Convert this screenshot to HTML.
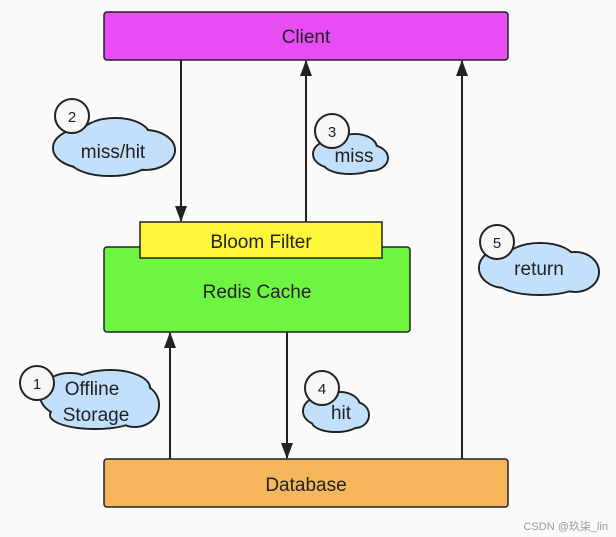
<!DOCTYPE html>
<html><head><meta charset="utf-8"><style>
html,body{margin:0;padding:0;background:#fff}
svg{display:block}
text{font-family:"Liberation Sans",sans-serif;fill:#222}
</style></head><body>
<svg width="616" height="537" viewBox="0 0 616 537" xmlns="http://www.w3.org/2000/svg">
<defs>
<marker id="ah" markerWidth="16" markerHeight="12" refX="15" refY="6" orient="auto" markerUnits="userSpaceOnUse">
<path d="M0,0 L16,6 L0,12 z" fill="#222"/></marker>
</defs>
<rect x="0" y="0" width="616" height="537" fill="#fafafa"/>
<rect x="104" y="12" width="404" height="48" rx="3" fill="#e84cf5" stroke="#222" stroke-width="1.5"/>
<text x="306" y="43" font-size="19" text-anchor="middle">Client</text>
<rect x="104" y="247" width="306" height="85" rx="3" fill="#6ef542" stroke="#222" stroke-width="1.5"/>
<text x="257" y="298" font-size="19" text-anchor="middle">Redis Cache</text>
<rect x="140" y="222" width="242" height="36" fill="#fff63a" stroke="#222" stroke-width="1.5"/>
<text x="261" y="248" font-size="19" text-anchor="middle">Bloom Filter</text>
<rect x="104" y="459" width="404" height="48" rx="3" fill="#f5b65c" stroke="#222" stroke-width="1.5"/>
<text x="306" y="491" font-size="19" text-anchor="middle">Database</text>
<g stroke="#222" stroke-width="2" marker-end="url(#ah)">
<line x1="181" y1="60" x2="181" y2="221"/>
<line x1="306" y1="222" x2="306" y2="61"/>
<line x1="462" y1="459" x2="462" y2="61"/>
<line x1="170" y1="459" x2="170" y2="333"/>
<line x1="287" y1="332" x2="287" y2="458"/>
</g>
<g fill="#c2dffb" stroke="#222" stroke-width="2">
<ellipse cx="85" cy="148" rx="32" ry="20"/><ellipse cx="115" cy="136" rx="35" ry="18"/><ellipse cx="145" cy="150" rx="30" ry="20"/><ellipse cx="110" cy="160" rx="40" ry="16"/></g>
<g fill="#c2dffb"><ellipse cx="85" cy="148" rx="31" ry="19"/><ellipse cx="115" cy="136" rx="34" ry="17"/><ellipse cx="145" cy="150" rx="29" ry="19"/><ellipse cx="110" cy="160" rx="39" ry="15"/></g>
<text x="113" y="158" font-size="19" text-anchor="middle">miss/hit</text>
<circle cx="72" cy="116" r="17" fill="#f7f7f7" stroke="#222" stroke-width="2"/><text x="72" y="122" font-size="15" text-anchor="middle">2</text>

<g fill="#c2dffb" stroke="#222" stroke-width="2">
<ellipse cx="333" cy="154" rx="20" ry="14"/><ellipse cx="355" cy="148" rx="22" ry="14"/><ellipse cx="370" cy="158" rx="18" ry="13"/><ellipse cx="350" cy="164" rx="26" ry="10"/></g>
<g fill="#c2dffb"><ellipse cx="333" cy="154" rx="19" ry="13"/><ellipse cx="355" cy="148" rx="21" ry="13"/><ellipse cx="370" cy="158" rx="17" ry="12"/><ellipse cx="350" cy="164" rx="25" ry="9"/></g>
<text x="354" y="162" font-size="19" text-anchor="middle">miss</text>
<circle cx="332" cy="131" r="17" fill="#f7f7f7" stroke="#222" stroke-width="2"/><text x="332" y="137" font-size="15" text-anchor="middle">3</text>

<g fill="#c2dffb" stroke="#222" stroke-width="2">
<ellipse cx="505" cy="268" rx="26" ry="20"/><ellipse cx="540" cy="260" rx="35" ry="17"/><ellipse cx="575" cy="272" rx="24" ry="20"/><ellipse cx="540" cy="282" rx="42" ry="13"/></g>
<g fill="#c2dffb"><ellipse cx="505" cy="268" rx="25" ry="19"/><ellipse cx="540" cy="260" rx="34" ry="16"/><ellipse cx="575" cy="272" rx="23" ry="19"/><ellipse cx="540" cy="282" rx="41" ry="12"/></g>
<text x="539" y="275" font-size="19" text-anchor="middle">return</text>
<circle cx="497" cy="242" r="17" fill="#f7f7f7" stroke="#222" stroke-width="2"/><text x="497" y="248" font-size="15" text-anchor="middle">5</text>

<g fill="#c2dffb" stroke="#222" stroke-width="2">
<ellipse cx="70" cy="395" rx="30" ry="22"/><ellipse cx="110" cy="388" rx="40" ry="18"/><ellipse cx="135" cy="405" rx="24" ry="22"/><ellipse cx="95" cy="415" rx="45" ry="14"/></g>
<g fill="#c2dffb"><ellipse cx="70" cy="395" rx="29" ry="21"/><ellipse cx="110" cy="388" rx="39" ry="17"/><ellipse cx="135" cy="405" rx="23" ry="21"/><ellipse cx="95" cy="415" rx="44" ry="13"/></g>
<text x="92" y="395" font-size="19" text-anchor="middle">Offline</text>
<text x="96" y="421" font-size="19" text-anchor="middle">Storage</text>
<circle cx="37" cy="383" r="17" fill="#f7f7f7" stroke="#222" stroke-width="2"/><text x="37" y="389" font-size="15" text-anchor="middle">1</text>

<g fill="#c2dffb" stroke="#222" stroke-width="2">
<ellipse cx="320" cy="411" rx="17" ry="14"/><ellipse cx="340" cy="406" rx="20" ry="14"/><ellipse cx="355" cy="415" rx="14" ry="13"/><ellipse cx="336" cy="422" rx="24" ry="10"/></g>
<g fill="#c2dffb"><ellipse cx="320" cy="411" rx="16" ry="13"/><ellipse cx="340" cy="406" rx="19" ry="13"/><ellipse cx="355" cy="415" rx="13" ry="12"/><ellipse cx="336" cy="422" rx="23" ry="9"/></g>
<text x="341" y="419" font-size="19" text-anchor="middle">hit</text>
<circle cx="322" cy="388" r="17" fill="#f7f7f7" stroke="#222" stroke-width="2"/><text x="322" y="394" font-size="15" text-anchor="middle">4</text>

<text x="608" y="530" font-size="11" text-anchor="end" style="font-family:'Liberation Sans','Noto Sans CJK SC',sans-serif;fill:#999">CSDN @玖柒_lin</text>
</svg>
</body></html>
